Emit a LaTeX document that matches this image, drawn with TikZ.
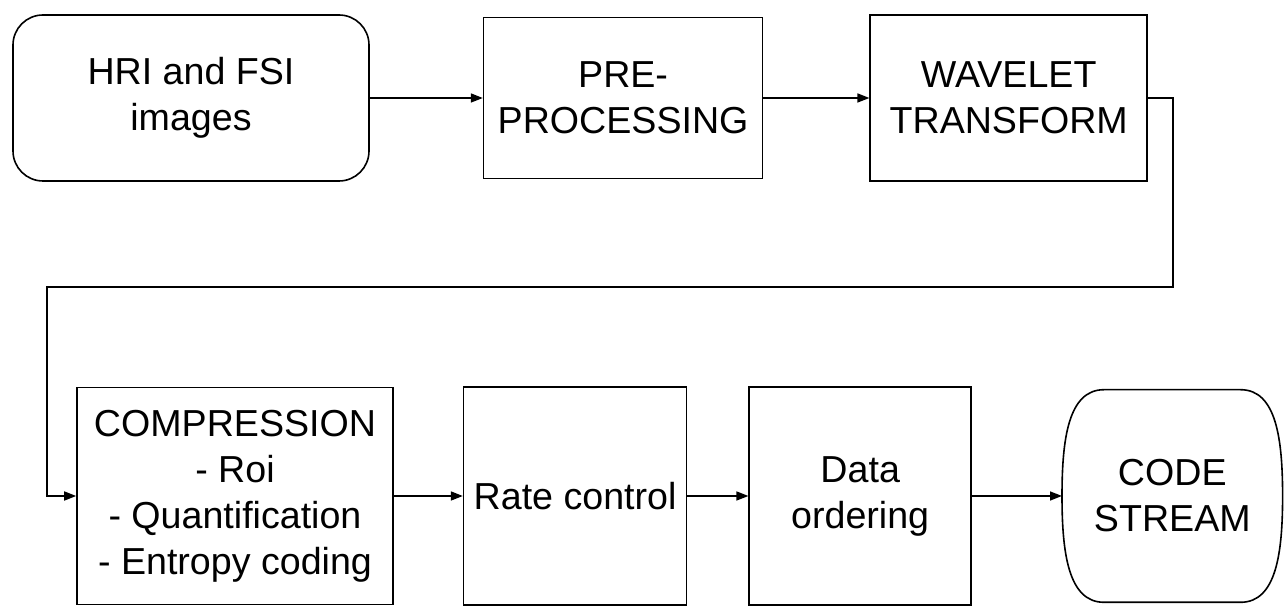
\documentclass[tikz,border=0pt]{standalone}
\usepackage{fontspec}
\setmainfont{Liberation Sans}
\usepackage{tikz}
\usetikzlibrary{positioning, arrows.meta}
\tikzstyle{block} = [rectangle, minimum width=139.5pt, minimum height=80.5pt, inner sep=1pt, align=center, draw=black, line width=0.8pt, font=\fontsize{18.8pt}{23pt}\selectfont]
\tikzstyle{source} = [block, rounded corners=15pt]
\tikzstyle{arrow} = [line width=0.8pt, -{Triangle[length=6pt,width=4.5pt]}]

\begin{document}
\begin{tikzpicture}[x=0.5pt, y=-0.5pt]
\useasboundingbox (0,0) rectangle (1286,613);

% top row
\node (hri) [source, minimum width=178pt, minimum height=83pt] at (191,98) {HRI and FSI\\images};
\node (prep) [block, right=56.5pt of hri] {PRE-\\PROCESSING};
\node (wav) [block, right=53pt of prep, minimum width=138.5pt, minimum height=83pt] {WAVELET\\TRANSFORM};

% bottom row
\node (comp) [block, minimum width=158pt, minimum height=108.5pt] at (235,496) {COMPRESSION\\- Roi\\- Quantification\\- Entropy coding};
\node (rate) [block, right=34.5pt of comp, minimum width=111.5pt, minimum height=109pt] {Rate control};
\node (order) [block, right=30.5pt of rate, minimum width=111pt, minimum height=109pt] {Data\\ordering};
\node (stream) [block, draw=none, right=45pt of order, minimum width=109.5pt, minimum height=105.5pt] {CODE\\STREAM};
\draw [line width=0.8pt] ([xshift=21pt]stream.north west) -- ([xshift=-21pt]stream.north east)
  .. controls ([xshift=-3pt]stream.north east) and ([yshift=28pt]stream.east) .. (stream.east)
  .. controls ([yshift=-28pt]stream.east) and ([xshift=-3pt]stream.south east) .. ([xshift=-21pt]stream.south east)
  -- ([xshift=21pt]stream.south west)
  .. controls ([xshift=3pt]stream.south west) and ([yshift=-28pt]stream.west) .. (stream.west)
  .. controls ([yshift=28pt]stream.west) and ([xshift=3pt]stream.north west) .. cycle;

\coordinate (turnR) at (1173,287);
\coordinate (turnL) at (47,287);

\draw [arrow] (hri) -- (prep);
\draw [arrow] (prep) -- (wav);
\draw [arrow] (wav.east) -| (turnR) -- (turnL) |- (comp.west);
\draw [arrow] (comp) -- (rate);
\draw [arrow] (rate) -- (order);
\draw [arrow] (order) -- (stream.west);
\end{tikzpicture}
\end{document}
